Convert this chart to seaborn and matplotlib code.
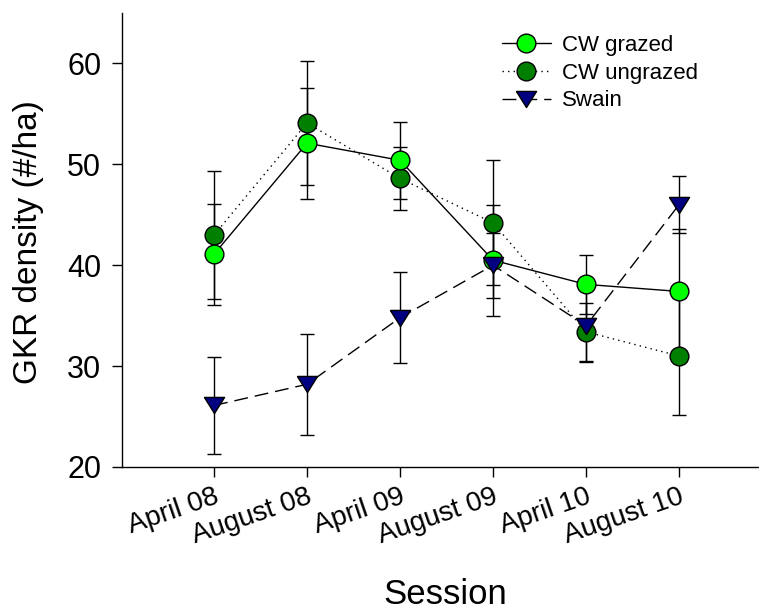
import matplotlib
matplotlib.use("Agg")
import matplotlib.pyplot as plt
import seaborn as sns
import pandas as pd
import numpy as np

sessions = ["April 08", "August 08", "April 09", "August 09", "April 10", "August 10"]
grazed = [41.1, 52.1, 50.4, 40.5, 38.1, 37.4]
grazed_err = [5.0, 5.5, 3.8, 5.5, 2.9, 6.2]
ungrazed = [43.0, 54.1, 48.6, 44.2, 33.4, 31.0]
ungrazed_err = [6.3, 6.1, 3.1, 6.2, 2.9, 5.8]
swain = [26.1, 28.2, 34.8, 40.0, 34.0, 46.0]
swain_err = [4.8, 5.0, 4.5, 3.2, 3.6, 2.8]

sns.set_style("ticks")
plt.rcParams['font.family'] = ['Liberation Sans', 'DejaVu Sans']
for k in ["text.color", "axes.labelcolor", "xtick.color", "ytick.color", "axes.edgecolor"]:
    plt.rcParams[k] = "black"

fig = plt.figure(figsize=(7.59, 6.14), dpi=100)
ax = fig.add_axes([122/759, 147/614, 637/759, 454/614])

pos = np.arange(len(sessions))
tri = [(-1.0, 0.8), (1.0, 0.8), (0.0, -0.8), (-1.0, 0.8)]

series = [
    ("CW ungrazed", ungrazed, ungrazed_err, "#007F00", "o", (0, (1, 3)), 13.5, 3),
    ("CW grazed", grazed, grazed_err, "#00FF00", "o", "-", 13.5, 4),
    ("Swain", swain, swain_err, "#000080", tri, (0, (10, 5)), 14.5, 5),
]

handles = {}
for name, vals, errs, col, mk, ls, ms, z in series:
    ax.errorbar(pos, vals, yerr=errs, fmt="none", ecolor="black",
                elinewidth=1.0, capsize=5, capthick=1.0, zorder=2)
    df = pd.DataFrame({"pos": pos, "val": vals})
    sns.lineplot(data=df, x="pos", y="val", ax=ax, color="black",
                 linestyle=ls, linewidth=1.0, marker=mk, markersize=ms,
                 markerfacecolor=col, markeredgecolor="black",
                 markeredgewidth=1.0, label=name, zorder=z, legend=False)
    handles[name] = ax.lines[-1]

order = ["CW grazed", "CW ungrazed", "Swain"]
leg = ax.legend([handles[n] for n in order], order, loc="upper left",
                bbox_to_anchor=(502/759, 1 - 35/614), bbox_transform=fig.transFigure,
                frameon=False, fontsize=16, handlelength=2.2, handletextpad=0.5,
                labelspacing=0.3, borderpad=0, borderaxespad=0, numpoints=1)

ax.set_xlim(-0.99, 5.86)
ax.set_ylim(20, 65)
ax.set_yticks([20, 30, 40, 50, 60])
ax.set_xticks(pos)
ax.set_xticklabels(sessions, rotation=19, ha="right", rotation_mode="anchor", fontsize=20)
ax.tick_params(axis="y", labelsize=22, length=7, width=1, direction="out", pad=8)
ax.tick_params(axis="x", length=7, width=1, direction="out", pad=5)

ax.set_xlabel("Session", fontsize=25)
ax.xaxis.set_label_coords((445-122)/637, (467-578)/454)
ax.set_ylabel("GKR density (#/ha)", fontsize=24)
ax.yaxis.set_label_coords((44-122)/637, (467-242)/454)

for s in ["top", "right"]:
    ax.spines[s].set_visible(False)
for s in ["left", "bottom"]:
    ax.spines[s].set_linewidth(1.0)

fig.savefig("out.png", dpi=100)
